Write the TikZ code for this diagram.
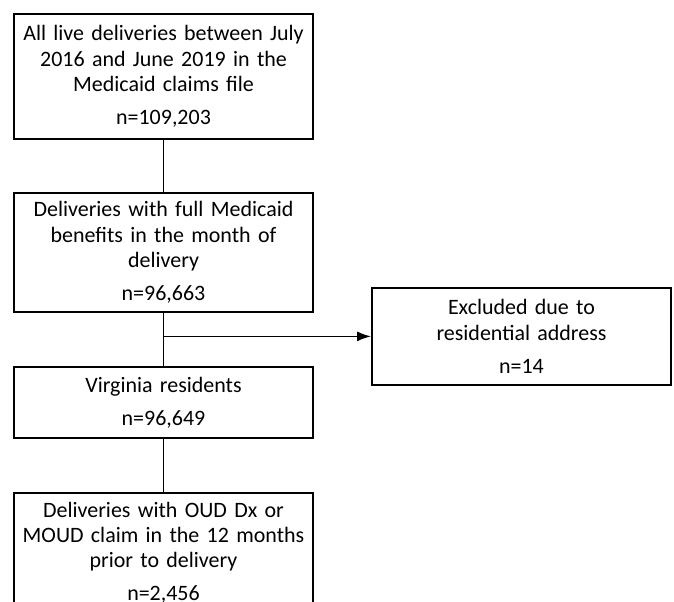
\documentclass[tikz,border=0pt]{standalone}
\usepackage{fontspec}
\setmainfont{Carlito}
\usepackage{tikz}
\usetikzlibrary{arrows.meta}
\tikzstyle{flowbox}=[draw, line width=1pt, minimum width=59.8mm,% plain white box
text width=58mm, align=center, inner sep=0pt, font=\fontsize{12.5}{14.3}\selectfont]
\tikzstyle{flowline}=[line width=1pt]
\begin{document}
\begin{tikzpicture}[x=0.2mm,y=-0.2mm,flowline]
\useasboundingbox (0,0) rectangle (674,601);
\clip (0,0) rectangle (674,601);
\node[flowbox,minimum height=25mm,anchor=north] (b1) at (163.5,13) {All live deliveries between July\\2016 and June 2019 in the\\Medicaid claims file\\[4.5pt]n=109,203};
\node[flowbox,minimum height=23.8mm,anchor=north] (b2) at (163.5,192) {Deliveries with full Medicaid\\benefits in the month of\\delivery\\[4.5pt]n=96,663};
\node[flowbox,minimum height=14.2mm,anchor=north] (b3) at (163.5,366) {Virginia residents\\[4.5pt]n=96,649};
\node[flowbox,minimum height=19.4mm,anchor=north] (b4) at (521.5,287) {Excluded due to\\residential address\\[4.5pt]n=14};
\node[flowbox,minimum height=24mm,anchor=north] (b5) at (163.5,492) {Deliveries with OUD Dx or\\MOUD claim in the 12 months\\prior to delivery\\[4.5pt]n=2,456};
\draw (b1.south) -- (b2.north);
\draw (b2.south) -- (b3.north);
\draw [-{Latex[length=2.8mm,width=2mm]}] (b2.south |- b4.west) -- (b4.west);
\draw (b3.south) -- (b5.north);
\end{tikzpicture}
\end{document}
